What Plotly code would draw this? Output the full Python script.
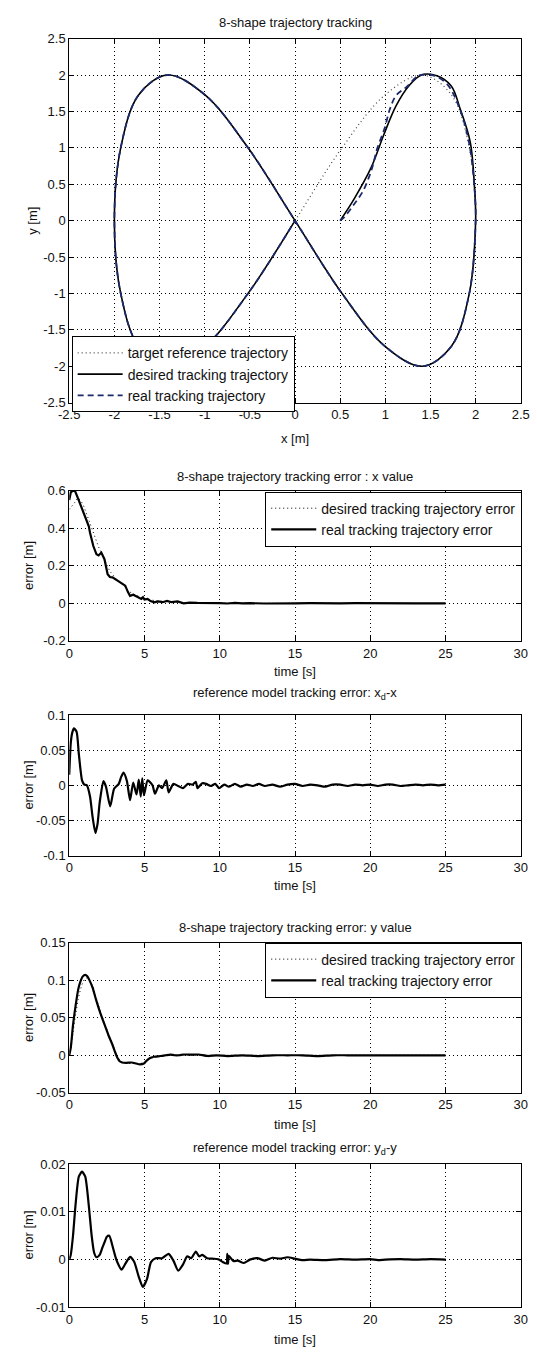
import plotly.graph_objects as go

W, H = 537, 1356
FONT = "Liberation Sans, Arial, sans-serif"

# ---------------- data: 8-shape trajectory ----------------
target_x = [0, 0.52, 1.0, 1.41, 1.73, 1.93, 2.0, 1.93, 1.73, 1.41, 1.0, 0.52, 0,
            -0.52, -1.0, -1.41, -1.73, -1.93, -2.0, -1.93, -1.73, -1.41, -1.0, -0.52, 0]
target_y = [0, 1.0, 1.73, 2.0, 1.73, 1.0, 0, -1.0, -1.73, -2.0, -1.73, -1.0, 0,
            1.0, 1.73, 2.0, 1.73, 1.0, 0, -1.0, -1.73, -2.0, -1.73, -1.0, 0]

desired_start_x = [0.5, 0.66, 0.84, 0.98, 1.12, 1.26, 1.40, 1.57, 1.73, 1.83, 1.94, 1.99, 2.0]
desired_start_y = [0.0, 0.31, 0.72, 1.17, 1.58, 1.85, 2.0, 1.99, 1.85, 1.53, 1.08, 0.4, 0.0]

real_start_x = [0.5, 0.54, 0.64, 0.75, 0.82, 0.86, 0.91, 0.99, 1.05, 1.12, 1.23, 1.37, 1.52,
                1.68, 1.82, 1.93, 1.99, 2.0]
real_start_y = [0.0, 0.04, 0.2, 0.4, 0.6, 0.75, 0.99, 1.26, 1.53, 1.72, 1.83, 1.99, 2.0,
                1.88, 1.55, 1.05, 0.4, 0.0]
join_index = 7  # both tracking trajectories follow the target after (2, 0)

desired_x = desired_start_x + target_x[join_index:]
desired_y = desired_start_y + target_y[join_index:]
real_x = real_start_x + target_x[join_index:]
real_y = real_start_y + target_y[join_index:]

traj_ticks = [-2.5, -2, -1.5, -1, -0.5, 0, 0.5, 1, 1.5, 2, 2.5]
traj_ticktext = ["-2.5", "-2", "-1.5", "-1", "-0.5", "0", "0.5", "1", "1.5", "2", "2.5"]

# ---------------- data: x tracking error ----------------
ex_t = [0, 0.1, 0.25, 0.4, 0.55, 0.74, 0.95, 1.17, 1.3, 1.38,
        1.6, 1.81, 1.95, 2.13, 2.34, 2.55, 2.7, 2.87, 3.1, 3.4,
        3.6, 3.72, 3.9, 4.04, 4.25, 4.47, 4.65, 4.79, 4.9, 5.0,
        5.21, 5.4, 5.64, 5.9, 6.2, 6.5, 6.8, 7.2, 7.6, 8.0,
        8.5, 9.0, 9.5, 10.0, 10.5, 11.0, 11.5, 12.0, 13.0, 14.0,
        15.0, 16.0, 17.0, 18.0, 19.0, 20.0, 21.0, 22.0, 23.0, 24.0,
        25.0]
ex_real = [0.55, 0.59, 0.60, 0.595, 0.565, 0.526, 0.49, 0.447, 0.41, 0.376,
           0.305, 0.261, 0.255, 0.27, 0.235, 0.155, 0.14, 0.138, 0.125, 0.111,
           0.10, 0.094, 0.06, 0.04, 0.046, 0.037, 0.03, 0.023, 0.032, 0.02,
           0.023, 0.012, 0.005, 0.01, 0.006, 0.013, 0.006, 0.01, 0.0, 0.004,
           0.002, 0.003, 0.0, 0.001, -0.001, 0.002, 0.0, 0.001, -0.001, 0.001,
           0.0, 0.001, -0.001, 0.0, 0.001, 0.0, -0.001, 0.001, 0.0, 0.0,
           0.0]
ex_desired = [0.50, 0.51, 0.52, 0.54, 0.56, 0.55, 0.52, 0.47, 0.44, 0.42,
              0.37, 0.33, 0.30, 0.27, 0.23, 0.19, 0.17, 0.155, 0.13, 0.11,
              0.095, 0.085, 0.07, 0.06, 0.05, 0.042, 0.036, 0.032, 0.028, 0.025,
              0.022, 0.018, 0.015, 0.012, 0.01, 0.008, 0.007, 0.005, 0.004, 0.003,
              0.002, 0.001, 0.001, 0.0, 0.0, 0.0, 0.0, 0.0, 0.0, 0.0,
              0.0, 0.0, 0.0, 0.0, 0.0, 0.0, 0.0, 0.0, 0.0, 0.0,
              0.0]

# ---------------- data: reference model error x_d - x ----------------
rx_t = [0, 0.1, 0.2, 0.32, 0.49, 0.64, 0.85, 1.0, 1.17, 1.38,
        1.55, 1.74, 1.88, 2.02, 2.27, 2.44, 2.72, 2.98, 3.29, 3.45,
        3.61, 3.83, 4.04, 4.25, 4.47, 4.62, 4.75, 4.85, 4.96, 5.21,
        5.53, 5.7, 5.96, 6.17, 6.45, 6.6, 6.92, 7.24, 7.56, 7.88,
        8.2, 8.41, 8.52, 8.84, 9.1, 9.4, 9.7, 9.95, 10.3, 10.6,
        11.0, 11.4, 11.8, 12.2, 12.6, 13.0, 13.5, 14.0, 14.5, 15.0,
        15.5, 16.0, 16.5, 17.0, 17.5, 18.0, 18.5, 19.0, 19.5, 20.0,
        20.5, 21.0, 21.5, 22.0, 22.5, 23.0, 23.5, 24.0, 24.5, 25.0]
rx_v = [0.015, 0.06, 0.075, 0.081, 0.076, 0.044, 0.007, 0.001, 0.0, -0.016,
        -0.045, -0.068, -0.055, -0.025, 0.006, -0.002, -0.03, -0.005, 0.002, 0.012,
        0.018, 0.006, -0.021, 0.004, -0.013, 0.008, -0.016, 0.01, -0.014, 0.007,
        0.0, -0.012, 0.0, -0.004, 0.007, -0.01, 0.002, -0.001, -0.004, 0.002,
        0.001, 0.005, -0.004, 0.003, 0.002, -0.001, 0.002, -0.004, 0.001, -0.002,
        0.002, -0.002, 0.001, -0.001, 0.002, -0.001, 0.001, -0.002, 0.001, 0.002,
        -0.001, 0.001, 0.0, -0.002, 0.001, 0.001, -0.001, 0.001, 0.0, 0.001,
        -0.001, 0.001, 0.001, -0.001, 0.0, 0.001, 0.0, 0.001, 0.0, 0.001]

# ---------------- data: y tracking error ----------------
ey_t = [0, 0.1, 0.25, 0.43, 0.6, 0.74, 0.9, 1.06, 1.2, 1.34,
        1.55, 1.81, 2.05, 2.34, 2.6, 2.87, 3.05, 3.19, 3.35, 3.51,
        3.8, 4.15, 4.45, 4.68, 4.96, 5.1, 5.26, 5.45, 5.64, 6.07,
        6.4, 6.7, 7.0, 7.3, 7.6, 7.95, 8.3, 8.6, 9.2, 9.8,
        10.5, 11.5, 12.5, 13.5, 14.5, 15.5, 16.5, 17.5, 18.5, 19.5,
        20.5, 21.5, 22.5, 23.5, 24.5, 25.0]
ey_real = [0.0, 0.01, 0.04, 0.067, 0.088, 0.098, 0.105, 0.107, 0.105, 0.1,
           0.09, 0.072, 0.057, 0.041, 0.027, 0.014, 0.004, -0.003, -0.008, -0.0096,
           -0.01, -0.0096, -0.011, -0.012, -0.011, -0.008, -0.005, -0.003, -0.002, -0.001,
           0.0, 0.001, 0.0, 0.0, 0.001, 0.001, 0.001, 0.001, -0.001, 0.0,
           -0.001, 0.0, -0.001, 0.0, 0.0, 0.0, -0.001, 0.0, 0.0, 0.0,
           0.0, 0.0, 0.0, 0.0, 0.0, 0.0]
ey_desired = [0.0, 0.008, 0.03, 0.055, 0.075, 0.087, 0.097, 0.102, 0.103, 0.1,
              0.092, 0.075, 0.06, 0.043, 0.029, 0.016, 0.006, -0.001, -0.006, -0.009,
              -0.0105, -0.011, -0.011, -0.011, -0.01, -0.008, -0.006, -0.004, -0.003, -0.001,
              0.0, 0.0, 0.0, 0.0, 0.0, 0.0, 0.0, 0.0, 0.0, 0.0,
              0.0, 0.0, 0.0, 0.0, 0.0, 0.0, 0.0, 0.0, 0.0, 0.0,
              0.0, 0.0, 0.0, 0.0, 0.0, 0.0]

# ---------------- data: reference model error y_d - y ----------------
ry_t = [0, 0.1, 0.25, 0.43, 0.64, 0.85, 1.06, 1.28, 1.49, 1.65,
        1.81, 2.02, 2.2, 2.34, 2.5, 2.66, 2.87, 3.05, 3.19, 3.47,
        3.72, 4.04, 4.32, 4.62, 4.89, 5.17, 5.43, 5.74, 6.17, 6.6,
        6.92, 7.24, 7.56, 7.84, 8.1, 8.41, 8.63, 8.84, 9.16, 9.5,
        9.9, 10.2, 10.45, 10.5, 10.55, 10.6, 10.9, 11.2, 11.6, 12.0,
        12.5, 13.0, 13.5, 14.0, 14.5, 15.0, 15.5, 16.0, 17.0, 18.0,
        19.0, 20.0, 20.5, 21.0, 22.0, 23.0, 24.0, 25.0]
ry_v = [0.0, 0.001, 0.005, 0.0119, 0.0174, 0.0184, 0.0174, 0.0119, 0.005, 0.0015,
        0.0005, 0.001, 0.0025, 0.0036, 0.0048, 0.005, 0.0029, 0.0008, -0.0005, -0.0021,
        -0.0009, 0.0006, -0.0005, -0.0036, -0.0057, -0.004, -0.0005, 0.0003, 0.0003, 0.0012,
        -0.0002, -0.0023, -0.001, 0.0007, 0.0003, 0.0017, 0.0007, 0.001, 0.0003, 0.0002,
        0.0001, -0.0005, -0.0008, 0.0012, -0.0009, 0.0008, -0.0003, -0.0002, -0.0007, 0.0,
        0.0003, -0.0002, 0.0004, 0.0002, 0.0005, 0.0002, -0.0001, 0.0, -0.0001, 0.0001,
        0.0, 0.0001, -0.0001, 0.0, 0.0001, 0.0, 0.0001, 0.0]

time_ticks = [0, 5, 10, 15, 20, 25, 30]
ex_ticks = [-0.2, 0, 0.2, 0.4, 0.6]
ex_ticktext = ["-0.2", "0", "0.2", "0.4", "0.6"]
rx_ticks = [-0.1, -0.05, 0, 0.05, 0.1]
rx_ticktext = ["-0.1", "-0.05", "0", "0.05", "0.1"]
ey_ticks = [-0.05, 0, 0.05, 0.1, 0.15]
ey_ticktext = ["-0.05", "0", "0.05", "0.1", "0.15"]
ry_ticks = [-0.01, 0, 0.01, 0.02]
ry_ticktext = ["-0.01", "0", "0.01", "0.02"]

# ---------------- layout helpers ----------------
def px_x(x):
    return x / W

def px_y(y):
    return 1 - y / H

X0, X1 = 60.5, 529.5
panels = [(32, 400), (489, 641), (716, 858), (946, 1098), (1170, 1315)]

DOT = "1px,3px"
TXT = "#111"

def axis_style(**kw):
    d = dict(showline=True, linecolor="black", linewidth=1, mirror="ticks",
             ticks="inside", ticklen=5, tickcolor="black", showgrid=True,
             gridcolor="black", griddash=DOT, gridwidth=1, zeroline=False,
             ticklabeloverflow="allow",
             tickfont=dict(family=FONT, size=13, color=TXT), fixedrange=True)
    d.update(kw)
    return d

fig = go.Figure()

# trajectory
fig.add_trace(go.Scatter(x=target_x, y=target_y, mode="lines", name="target reference trajectory",
                         line=dict(color="#444", width=1.2, dash=DOT, shape="spline", smoothing=1.0),
                         xaxis="x", yaxis="y", legend="legend"))
fig.add_trace(go.Scatter(x=desired_x, y=desired_y, mode="lines", name="desired tracking trajectory",
                         line=dict(color="black", width=1.6, shape="spline", smoothing=1.0),
                         xaxis="x", yaxis="y", legend="legend"))
fig.add_trace(go.Scatter(x=real_x, y=real_y, mode="lines", name="real tracking trajectory",
                         line=dict(color="#1b2a6b", width=1.8, dash="6px,4px", shape="spline", smoothing=1.0),
                         xaxis="x", yaxis="y", legend="legend"))

# x error
fig.add_trace(go.Scatter(x=ex_t, y=ex_desired, mode="lines", name="desired tracking trajectory error",
                         line=dict(color="black", width=1, dash=DOT),
                         xaxis="x2", yaxis="y2", legend="legend2"))
fig.add_trace(go.Scatter(x=ex_t, y=ex_real, mode="lines", name="real tracking trajectory error",
                         line=dict(color="black", width=2.2),
                         xaxis="x2", yaxis="y2", legend="legend2"))

# xd - x
fig.add_trace(go.Scatter(x=rx_t, y=rx_v, mode="lines", showlegend=False,
                         line=dict(color="black", width=2.2, shape="spline", smoothing=0.6),
                         xaxis="x3", yaxis="y3"))

# y error
fig.add_trace(go.Scatter(x=ey_t, y=ey_desired, mode="lines", name="desired tracking trajectory error",
                         line=dict(color="black", width=1, dash=DOT, shape="spline", smoothing=0.6),
                         xaxis="x4", yaxis="y4", legend="legend3"))
fig.add_trace(go.Scatter(x=ey_t, y=ey_real, mode="lines", name="real tracking trajectory error",
                         line=dict(color="black", width=2.2, shape="spline", smoothing=0.6),
                         xaxis="x4", yaxis="y4", legend="legend3"))

# yd - y
fig.add_trace(go.Scatter(x=ry_t, y=ry_v, mode="lines", showlegend=False,
                         line=dict(color="black", width=2.2, shape="spline", smoothing=0.6),
                         xaxis="x5", yaxis="y5"))

dom = [[px_y(b), px_y(t)] for (t, b) in panels]
xdom = [px_x(X0), px_x(X1)]

legend_common = dict(bgcolor="white", bordercolor="black", borderwidth=1,
                     font=dict(family=FONT, size=14, color=TXT), itemwidth=45, tracegroupgap=0)

layout = dict(
    width=W, height=H, margin=dict(l=0, r=0, t=0, b=0),
    paper_bgcolor="white", plot_bgcolor="white",
    font=dict(family=FONT, size=13, color=TXT),
    xaxis=axis_style(domain=xdom, anchor="y", range=[-2.5, 2.5], tickvals=traj_ticks, ticktext=traj_ticktext),
    yaxis=axis_style(domain=dom[0], anchor="x", range=[-2.5, 2.5], tickvals=traj_ticks, ticktext=traj_ticktext),
    xaxis2=axis_style(domain=xdom, anchor="y2", range=[0, 30], tickvals=time_ticks),
    yaxis2=axis_style(domain=dom[1], anchor="x2", range=[-0.2, 0.6], tickvals=ex_ticks, ticktext=ex_ticktext),
    xaxis3=axis_style(domain=xdom, anchor="y3", range=[0, 30], tickvals=time_ticks),
    yaxis3=axis_style(domain=dom[2], anchor="x3", range=[-0.1, 0.1], tickvals=rx_ticks, ticktext=rx_ticktext),
    xaxis4=axis_style(domain=xdom, anchor="y4", range=[0, 30], tickvals=time_ticks),
    yaxis4=axis_style(domain=dom[3], anchor="x4", range=[-0.05, 0.15], tickvals=ey_ticks, ticktext=ey_ticktext),
    xaxis5=axis_style(domain=xdom, anchor="y5", range=[0, 30], tickvals=time_ticks),
    yaxis5=axis_style(domain=dom[4], anchor="x5", range=[-0.01, 0.02], tickvals=ry_ticks, ticktext=ry_ticktext),
    legend=dict(x=px_x(63), y=px_y(333), xanchor="left", yanchor="top", **legend_common),
    legend2=dict(x=px_x(531), y=px_y(490), xanchor="right", yanchor="top", **legend_common),
    legend3=dict(x=px_x(531), y=px_y(946), xanchor="right", yanchor="top", **legend_common),
)
fig.update_layout(**layout)

xc = px_x((X0 + X1) / 2)
texts = [
    ("8-shape trajectory tracking", xc, 16, 0),
    ("x [m]", xc, 436, 0),
    ("y [m]", px_x(22), 216, -90),
    ("8-shape trajectory tracking error : x value", xc, 475, 0),
    ("time [s]", xc, 672, 0),
    ("error [m]", px_x(18), 565, -90),
    ("reference model tracking error: x<sub>d</sub>-x", xc, 694, 0),
    ("time [s]", xc, 888, 0),
    ("error [m]", px_x(18), 787, -90),
    ("8-shape trajectory tracking error: y value", xc, 931, 0),
    ("time [s]", xc, 1130, 0),
    ("error [m]", px_x(18), 1022, -90),
    ("reference model tracking error: y<sub>d</sub>-y", xc, 1154, 0),
    ("time [s]", xc, 1347, 0),
    ("error [m]", px_x(18), 1242, -90),
]
anns = []
for txt, x, y, ang in texts:
    anns.append(dict(text=txt, x=x, y=px_y(y), xref="paper", yref="paper", showarrow=False,
                     xanchor="center", yanchor="middle", textangle=ang,
                     font=dict(family=FONT, size=13, color=TXT)))
fig.update_layout(annotations=anns)

fig.write_html("out.html", config={"displayModeBar": False},
               post_script="document.body.style.margin='0';document.body.style.overflow='hidden';")
